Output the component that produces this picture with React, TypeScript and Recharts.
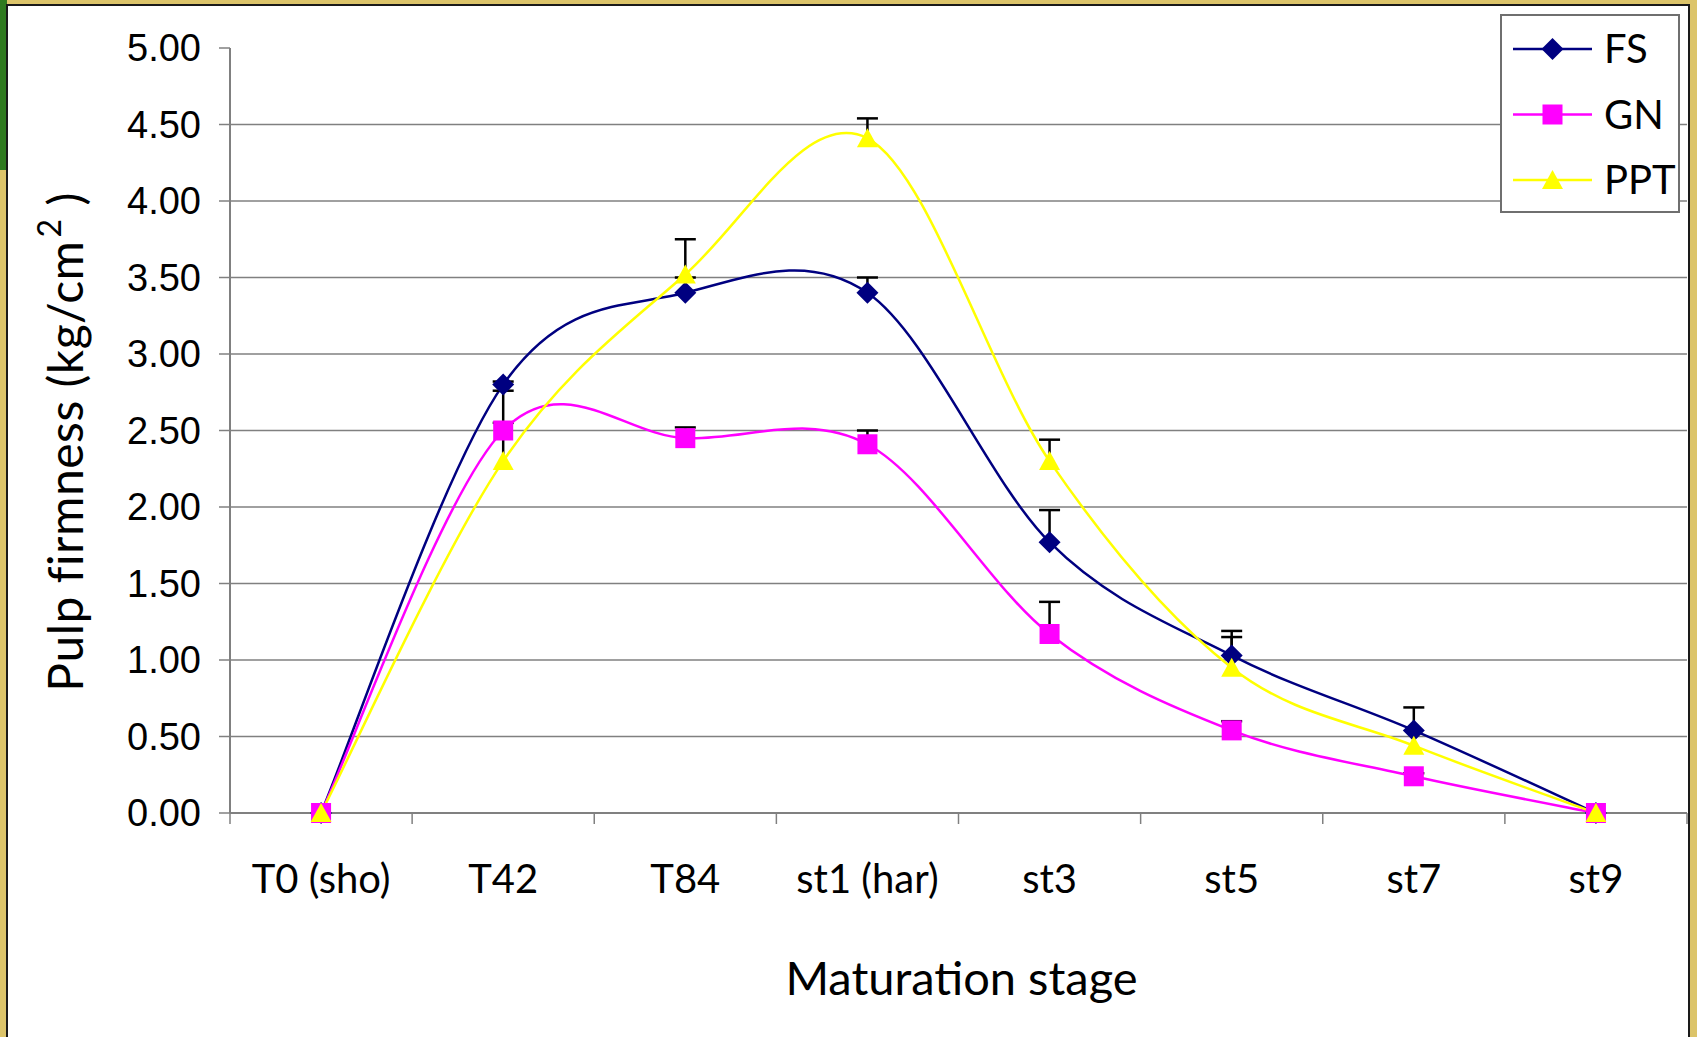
import React from 'react';
import { LineChart, Line, XAxis, YAxis, CartesianGrid, ErrorBar, Legend, Label } from 'recharts';

const stages = ['T0 (sho)', 'T42', 'T84', 'st1 (har)', 'st3', 'st5', 'st7', 'st9'];
const fsValues = [0, 2.8, 3.4, 3.4, 1.77, 1.03, 0.54, 0];
const gnValues = [0, 2.5, 2.45, 2.41, 1.17, 0.54, 0.24, 0];
const pptValues = [0, 2.3, 3.52, 4.41, 2.3, 0.95, 0.44, 0];
// upper error bars only
const fsErrors = [0, 0.02, 0.1, 0.1, 0.21, 0.16, 0.15, 0];
const gnErrors = [0, 0.05, 0.07, 0.09, 0.21, 0.06, 0.02, 0];
const pptErrors = [0, 0.46, 0.23, 0.13, 0.14, 0.2, 0, 0];
const yTicks = [0, 0.5, 1, 1.5, 2, 2.5, 3, 3.5, 4, 4.5, 5];

const upper = (e: number) => (e > 0 ? [0, e] : null);

const data = stages.map((stage, i) => ({
  idx: i,
  stage,
  FS: fsValues[i],
  GN: gnValues[i],
  PPT: pptValues[i],
  fsErr: upper(fsErrors[i]),
  gnErr: upper(gnErrors[i]),
  pptErr: upper(pptErrors[i]),
}));

// centres carry the labels, half steps carry the tick marks between stages
const xTicks = [...stages.flatMap((_, i) => [i - 0.5, i]), stages.length - 0.5];

const comic = '"Comic Sans MS", Lato, sans-serif';
const arial = 'Arial, "Liberation Sans", sans-serif';
const NAVY = '#000080';
const MAGENTA = '#FF00FF';
const YELLOW = '#FFFF00';

// Excel-like smoothed line (Catmull-Rom through the points)
function excelSmooth(context: any) {
  let pts: number[][] = [];
  return {
    areaStart() {},
    areaEnd() {},
    lineStart() {
      pts = [];
    },
    point(x: number, y: number) {
      pts.push([+x, +y]);
    },
    lineEnd() {
      if (!pts.length) return;
      context.moveTo(pts[0][0], pts[0][1]);
      for (let i = 0; i < pts.length - 1; i++) {
        const p0 = pts[i - 1] || pts[i];
        const p1 = pts[i];
        const p2 = pts[i + 1];
        const p3 = pts[i + 2] || p2;
        context.bezierCurveTo(
          p1[0] + (p2[0] - p0[0]) / 6,
          p1[1] + (p2[1] - p0[1]) / 6,
          p2[0] - (p3[0] - p1[0]) / 6,
          p2[1] - (p3[1] - p1[1]) / 6,
          p2[0],
          p2[1]
        );
      }
    },
  };
}

const diamond = (cx: number, cy: number, color: string) => (
  <path d={`M${cx},${cy - 11}L${cx + 11},${cy}L${cx},${cy + 11}L${cx - 11},${cy}Z`} fill={color} />
);
const square = (cx: number, cy: number, color: string) => (
  <rect x={cx - 10} y={cy - 10} width={20} height={20} fill={color} />
);
const triangle = (cx: number, cy: number, color: string) => (
  <path d={`M${cx},${cy - 10}L${cx + 10.5},${cy + 9}L${cx - 10.5},${cy + 9}Z`} fill={color} />
);
const markers = [diamond, square, triangle];

const makeDot = (shape: any, color: string) => (p: any) => (
  <g key={`dot-${p.index}`}>{p.cx == null ? null : shape(p.cx, p.cy, color)}</g>
);

const StageTick = (props: any) => {
  const { x, y, payload } = props;
  const v = payload.value;
  if (Number.isInteger(v)) {
    return (
      <text x={x} y={y + 80} textAnchor="middle" fontSize={40} fontFamily={comic} fill="#000">
        {stages[v]}
      </text>
    );
  }
  return <line x1={x} y1={y} x2={x} y2={y + 11} stroke="#808080" strokeWidth={1.5} />;
};

const LegendBox = (props: any) => {
  const payload = props.payload || [];
  return (
    <div style={{ width: 180, height: 199, boxSizing: 'border-box', border: '2px solid #6f6f6f', background: '#fff' }}>
      <svg width={176} height={195}>
        {payload.map((item: any, i: number) => {
          const cy = 33 + i * 65.5;
          return (
            <g key={item.value}>
              <line x1={11} x2={90} y1={cy} y2={cy} stroke={item.color} strokeWidth={2.5} />
              {markers[i](50.5, cy, item.color)}
              <text x={102} y={cy + 14} fontSize={40} fontFamily={comic} fill="#000">
                {item.value}
              </text>
            </g>
          );
        })}
      </svg>
    </div>
  );
};

const YTitle = () => {
  const cx = 64;
  const cy = 442;
  return (
    <text
      x={cx}
      y={cy}
      transform={`rotate(-90, ${cx}, ${cy})`}
      textAnchor="middle"
      dominantBaseline="central"
      fontSize={48}
      letterSpacing={0.5}
      fontFamily={comic}
      fill="#000"
    >
      Pulp firmness (kg/cm
      <tspan dx={3} dy={-16} fontSize={32}>2</tspan>
      <tspan dy={16}> )</tspan>
    </text>
  );
};

const XTitle = (props: any) => {
  const vb = props.viewBox || { x: 0, y: 0, width: 0 };
  return (
    <text x={vb.x + vb.width / 2 + 3} y={vb.y + 182} textAnchor="middle" fontSize={47} fontFamily={comic} fill="#000">
      Maturation stage
    </text>
  );
};

export default function App() {
  return (
    <div style={{ position: 'absolute', left: 0, top: 0, width: 1697, height: 1037, background: '#DCC46A', overflow: 'hidden' }}>
      {/* plus-only error bars: hide the cap drawn at the data point (third piece of each bar) */}
      <style>{'.recharts-errorBar > :nth-child(3){display:none}'}</style>
      <div style={{ position: 'absolute', left: 0, top: 0, width: 7, height: 170, background: '#2F7A1F' }} />
      <div
        style={{
          position: 'absolute',
          left: 6,
          top: 4,
          width: 1684,
          height: 1050,
          boxSizing: 'border-box',
          border: '2px solid #1a1a1a',
          background: '#fff',
        }}
      />
      <div style={{ position: 'absolute', left: 0, top: 0 }}>
        <LineChart width={1697} height={1037} data={data} margin={{ top: 48, right: 10, bottom: 0, left: 0 }}>
          <CartesianGrid
            vertical={false}
            stroke="#808080"
            strokeWidth={1.5}
            horizontalValues={yTicks.filter((v) => v > 0 && v < 5)}
          />
          <XAxis
            type="number"
            dataKey="idx"
            domain={[-0.5, stages.length - 0.5]}
            ticks={xTicks}
            interval={0}
            height={224}
            tickLine={false}
            tickSize={0}
            tickMargin={0}
            axisLine={{ stroke: '#808080', strokeWidth: 2 }}
            tick={<StageTick />}
          >
            <Label content={<XTitle />} />
          </XAxis>
          <YAxis
            domain={[0, 5]}
            ticks={yTicks}
            interval={0}
            width={230}
            tickSize={11}
            tickMargin={18}
            tickFormatter={(v: number) => v.toFixed(2)}
            tick={{ fontSize: 38, fontFamily: arial, fill: '#000' }}
            tickLine={{ stroke: '#808080', strokeWidth: 1.5 }}
            axisLine={{ stroke: '#808080', strokeWidth: 2 }}
          >
            <Label content={<YTitle />} />
          </YAxis>
          <Legend
            layout="vertical"
            align="center"
            verticalAlign="middle"
            content={<LegendBox />}
            wrapperStyle={{ left: 1500, top: 14, width: 180, height: 199, right: 'auto', bottom: 'auto' }}
          />
          <Line
            dataKey="FS"
            name="FS"
            stroke={NAVY}
            strokeWidth={2.5}
            type={excelSmooth as any}
            dot={makeDot(diamond, NAVY)}
            activeDot={false}
            isAnimationActive={false}
          >
            <ErrorBar dataKey="fsErr" direction="y" width={10.5} stroke="#000" strokeWidth={2.5} isAnimationActive={false} />
          </Line>
          <Line
            dataKey="GN"
            name="GN"
            stroke={MAGENTA}
            strokeWidth={2.5}
            type={excelSmooth as any}
            dot={makeDot(square, MAGENTA)}
            activeDot={false}
            isAnimationActive={false}
          >
            <ErrorBar dataKey="gnErr" direction="y" width={10.5} stroke="#000" strokeWidth={2.5} isAnimationActive={false} />
          </Line>
          <Line
            dataKey="PPT"
            name="PPT"
            stroke={YELLOW}
            strokeWidth={2.5}
            type={excelSmooth as any}
            dot={makeDot(triangle, YELLOW)}
            activeDot={false}
            isAnimationActive={false}
          >
            <ErrorBar dataKey="pptErr" direction="y" width={10.5} stroke="#000" strokeWidth={2.5} isAnimationActive={false} />
          </Line>
        </LineChart>
      </div>
    </div>
  );
}
